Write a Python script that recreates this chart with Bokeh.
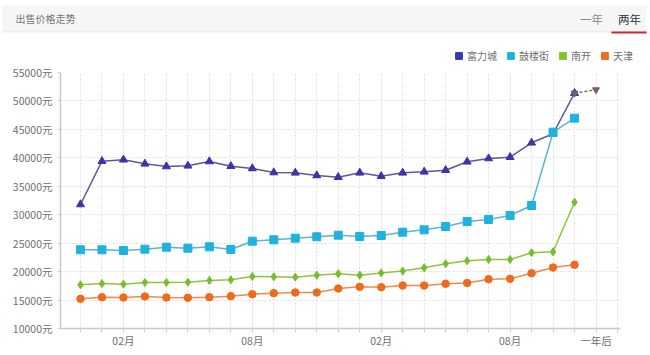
from bokeh.plotting import figure
from bokeh.layouts import column
from bokeh.models import (FixedTicker, Legend, LegendItem, Label, BoxAnnotation,
                          ColumnDataSource, Range1d)
from bokeh.embed import file_html
from bokeh.resources import INLINE

# ---------------- data ----------------
x_index = list(range(24))
fulicheng = [31800, 39410, 39660, 38950, 38480, 38600, 39360, 38530, 38130, 37420,
             37370, 36900, 36600, 37370, 36770, 37370, 37550, 37830, 39310, 39890,
             40110, 42650, 44230, 51370]
gulou = [23840, 23840, 23710, 23940, 24290, 24120, 24360, 23890, 25350, 25590,
         25880, 26120, 26400, 26170, 26350, 26930, 27350, 27930, 28810, 29160,
         29870, 31620, 44510, 46970]
nankai = [17680, 17910, 17790, 18090, 18090, 18140, 18440, 18560, 19140, 19090,
          19020, 19370, 19620, 19370, 19760, 20110, 20670, 21370, 21900, 22130,
          22130, 23310, 23480, 32200]
tianjin = [15220, 15500, 15450, 15630, 15450, 15400, 15500, 15680, 16030, 16210,
           16330, 16330, 17030, 17330, 17260, 17560, 17560, 17860, 18000, 18670,
           18740, 19720, 20720, 21200]
forecast_x = [23, 24]
forecast_y = [51370, 51960]

series_names = ["富力城", "鼓楼街", "南开", "天津"]
x_tick_pos = [2, 8, 14, 20, 24]
x_tick_labels = ["02月", "08月", "02月", "08月", "一年后"]
y_ticks = [10000, 15000, 20000, 25000, 30000, 35000, 40000, 45000, 50000, 55000]
y_suffix = "元"
header_title = "出售价格走势"
header_tabs = ["一年", "两年"]

FONT = "Noto Sans CJK SC"
HEADER_H = 64

# ---------------- header (title bar + legend) ----------------
h = figure(width=650, height=HEADER_H, output_backend="svg", toolbar_location=None,
           x_range=Range1d(0, 650), y_range=Range1d(HEADER_H, 0),
           x_axis_type=None, y_axis_type=None, min_border=0,
           outline_line_color=None, background_fill_color="white",
           border_fill_color="white")
h.frame_align = False
h.grid.visible = False

h.add_layout(BoxAnnotation(left=2, right=646, top=5, bottom=30,
                           fill_color="#f6f6f6", fill_alpha=1, line_color=None,
                           level="underlay"))
h.add_layout(BoxAnnotation(left=2, right=646, top=30, bottom=32,
                           fill_color="#eeeeee", fill_alpha=1, line_color=None,
                           level="underlay"))
h.add_layout(Label(x=15, y=18, text=header_title, text_font=FONT,
                   text_font_size="10px", text_color="#777777",
                   text_baseline="middle"))
h.add_layout(Label(x=591, y=18, text=header_tabs[0], text_font=FONT,
                   text_font_size="11.5px", text_color="#8a8a8a",
                   text_baseline="middle", text_align="center"))
h.add_layout(Label(x=629, y=18, text=header_tabs[1], text_font=FONT,
                   text_font_size="11.5px", text_color="#333333",
                   text_baseline="middle", text_align="center"))
h.add_layout(BoxAnnotation(left=611, right=646, top=31, bottom=33,
                           fill_color="#c62a2f", fill_alpha=1, line_color=None))

legend_colors = ["#3a35b0", "#1db3e0", "#7cc42b", "#f06a1e"]
items = []
for name, c in zip(series_names, legend_colors):
    # legend swatch only: no visible data point
    r = h.scatter(x=[float("nan")], y=[float("nan")], marker="square",
                  fill_color=c, line_color=c)
    items.append(LegendItem(label=name, renderers=[r]))
legend = Legend(items=items, orientation="horizontal", location=(450, 0),
                padding=0, margin=0, border_line_color=None,
                background_fill_alpha=0, glyph_width=17, glyph_height=17,
                label_standoff=0, spacing=5, label_height=12,
                label_text_font=FONT, label_text_font_size="10px",
                label_text_color="#707070")
h.add_layout(legend, "center")

# ---------------- main chart ----------------
p = figure(width=650, height=355 - HEADER_H, output_backend="svg", toolbar_location=None,
           x_range=Range1d(-0.93, 25.14), y_range=Range1d(10000, 55000),
           min_border_left=60, min_border_right=30, min_border_top=72 - HEADER_H,
           min_border_bottom=27, outline_line_color=None,
           background_fill_color="white", border_fill_color="white")
p.frame_align = False

for ax in (p.xaxis[0], p.yaxis[0]):
    ax.axis_line_color = "#c8c8c8"
    ax.axis_line_width = 1.5
    ax.major_tick_line_color = "#d0d0d0"
    ax.minor_tick_line_color = "#d0d0d0"
    ax.major_label_text_color = "#707070"
    ax.major_label_text_font = FONT
    ax.major_label_text_font_size = "10.5px"

p.xaxis.ticker = FixedTicker(ticks=x_tick_pos, minor_ticks=list(range(0, 26)))
p.xaxis.major_label_overrides = {k: v for k, v in zip(x_tick_pos, x_tick_labels)}
p.xaxis.major_tick_out = 4
p.xaxis.major_tick_in = 0
p.xaxis.minor_tick_out = 4
p.xaxis.minor_tick_in = 0
p.xaxis.major_label_standoff = 0

p.yaxis.ticker = FixedTicker(ticks=y_ticks, minor_ticks=[])
p.yaxis.major_label_overrides = {t: f"{t}{y_suffix}" for t in y_ticks}
p.yaxis.major_tick_out = 3
p.yaxis.major_tick_in = 0
p.yaxis.major_label_standoff = 5

p.xgrid.grid_line_color = "#dedede"
p.xgrid.grid_line_dash = "2 2"
p.xgrid.minor_grid_line_color = "#dedede"
p.xgrid.minor_grid_line_dash = "2 2"
p.ygrid.grid_line_color = "#dedede"
p.ygrid.grid_line_dash = "2 2"

styles = [
    (fulicheng, "#5d5897", "#3d34a6", "triangle", 8),
    (gulou, "#5ab4d2", "#1fb2de", "square", 8),
    (nankai, "#8cc63f", "#74be28", "diamond", 8),
    (tianjin, "#f08a4b", "#ee6a1d", "circle", 7.5),
]
for vals, lc, mc, mk, sz in styles:
    src = ColumnDataSource(dict(x=x_index, y=vals))
    p.line("x", "y", source=src, line_color=lc, line_width=1.5)
    p.scatter("x", "y", source=src, marker=mk, size=sz, fill_color=mc, line_color=mc)

fsrc = ColumnDataSource(dict(x=forecast_x, y=forecast_y))
p.line("x", "y", source=fsrc, line_color="#7a6464", line_width=1.5, line_dash="3 2")
p.scatter("x", "y", source=fsrc, marker="inverted_triangle", size=7,
          fill_color="#7a6060", line_color="#7a6060")

layout = column(h, p, spacing=0)
open("out.html", "w").write(file_html(layout, INLINE))
